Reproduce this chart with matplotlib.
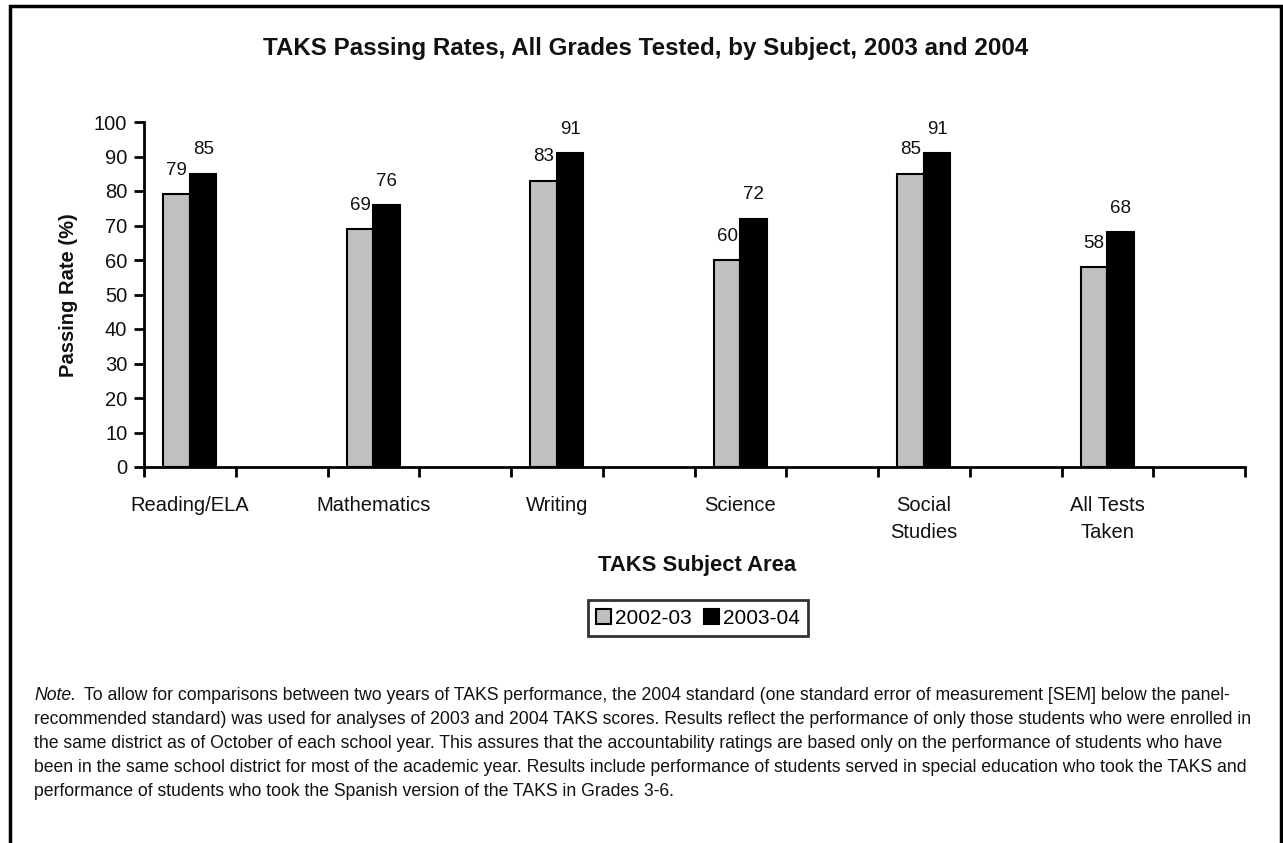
import matplotlib
matplotlib.use("Agg")
import matplotlib.pyplot as plt
import numpy as np
from matplotlib.patches import Rectangle

# data
subjects = ["Reading/ELA", "Mathematics", "Writing", "Science", "Social\nStudies", "All Tests\nTaken"]
rate_2003 = [79, 69, 83, 60, 85, 58]
rate_2004 = [85, 76, 91, 72, 91, 68]
series_names = ["2002-03", "2003-04"]
yticks = list(range(0, 101, 10))

title = "TAKS Passing Rates, All Grades Tested, by Subject, 2003 and 2004"
note_lines = [
    "To allow for comparisons between two years of TAKS performance, the 2004 standard (one standard error of measurement [SEM] below the panel-",
    "recommended standard) was used for analyses of 2003 and 2004 TAKS scores. Results reflect the performance of only those students who were enrolled in",
    "the same district as of October of each school year. This assures that the accountability ratings are based only on the performance of students who have",
    "been in the same school district for most of the academic year. Results include performance of students served in special education who took the TAKS and",
    "performance of students who took the Spanish version of the TAKS in Grades 3-6.",
]

plt.rcParams["font.family"] = ["Liberation Sans", "DejaVu Sans"]
INK = "#111111"

W, H = 1283, 843
fig = plt.figure(figsize=(W / 100, H / 100), dpi=100)
ax = fig.add_axes([144 / W, 1 - 467 / H, (1245 - 144) / W, (467 - 122) / H])

# every category takes two slots on the axis (the odd ones are empty), like the original
x = np.arange(len(subjects)) * 2
bw = 0.29
b1 = ax.bar(x - bw / 2, rate_2003, bw, color="#c0c0c0", edgecolor="black", lw=1.5,
            label=series_names[0])
b2 = ax.bar(x + bw / 2, rate_2004, bw, color="black", edgecolor="black", lw=1.5,
            label=series_names[1])
for bars in (b1, b2):
    for r in bars:
        ax.annotate(f"{r.get_height():g}", (r.get_x() + r.get_width() / 2, r.get_height()),
                    xytext=(0, 11), textcoords="offset points", ha="center", va="bottom",
                    fontsize=13.5, color=INK)

ax.set_xlim(-0.5, 2 * len(subjects) - 0.5)
ax.set_ylim(0, 100)
ax.set_yticks(yticks)
ax.set_xticks(np.arange(-0.5, 2 * len(subjects), 1.0))
ax.set_xticklabels([])
ax.set_xticks(x, minor=True)
ax.set_xticklabels(subjects, minor=True, fontsize=14.5, color=INK, linespacing=1.55)
ax.tick_params(axis="x", which="minor", length=0, pad=21)
ax.tick_params(axis="x", which="major", direction="out", length=7, width=2)
ax.tick_params(axis="y", direction="out", length=7, width=2, labelsize=14.5,
               labelcolor=INK, pad=5)
for s in ("top", "right"):
    ax.spines[s].set_visible(False)
for s in ("left", "bottom"):
    ax.spines[s].set_linewidth(2)

fig.text(646 / W, 1 - 48 / H, title, ha="center", va="center", fontsize=17.4,
         fontweight="bold", color=INK)
fig.text(68 / W, 1 - 295 / H, "Passing Rate (%)", ha="center", va="center", rotation=90,
         fontsize=14.5, fontweight="bold", color=INK)
fig.text(697 / W, 1 - 566 / H, "TAKS Subject Area", ha="center", va="center",
         fontsize=15.8, fontweight="bold", color=INK)

leg = fig.legend(loc="center", bbox_to_anchor=(698 / W, 1 - 618 / H), ncol=2, frameon=True,
                 fancybox=False, edgecolor="black", fontsize=15, handlelength=0.7,
                 handleheight=0.7, handletextpad=0.2, columnspacing=0.6, borderpad=0.4)
leg.get_frame().set_linewidth(2)

# note block under the chart
y0, dy = 1 - 696 / H, 24 / H
fig.text(34 / W, y0, "Note.", style="italic", fontsize=12.7, va="center", color=INK)
for i, line in enumerate(note_lines):
    fig.text((84 if i == 0 else 34) / W, y0 - i * dy, line, fontsize=12.7, va="center",
             color=INK)

# outer frame (bottom edge runs off the picture)
fig.add_artist(Rectangle((9.5 / W, -0.05), (1281 - 9.5) / W, 1.05 - 6.5 / H,
                         transform=fig.transFigure, fill=False, lw=2.5, edgecolor="black",
                         clip_on=False))

fig.savefig("out.png", dpi=100)
